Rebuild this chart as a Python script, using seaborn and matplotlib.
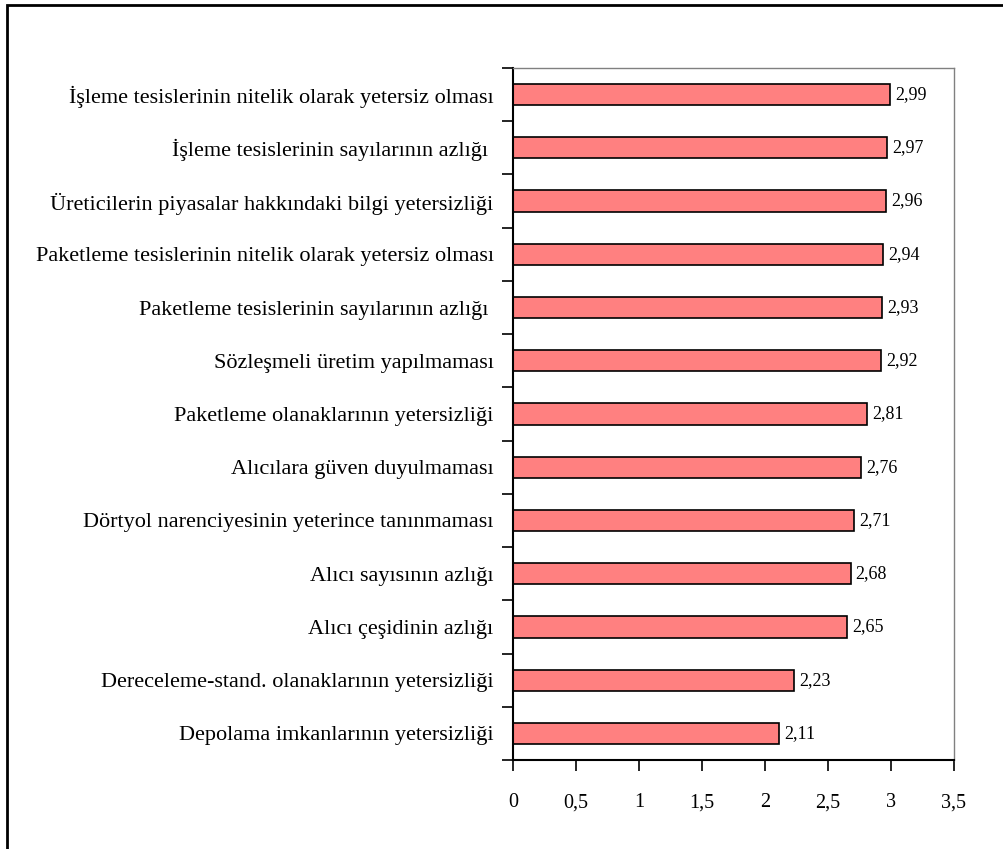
import matplotlib
matplotlib.use("Agg")
import matplotlib.pyplot as plt
import seaborn as sns
import pandas as pd
from matplotlib.patches import Rectangle

categories = [
    "İşleme tesislerinin nitelik olarak yetersiz olması",
    "İşleme tesislerinin sayılarının azlığı ",
    "Üreticilerin piyasalar hakkındaki bilgi yetersizliği",
    "Paketleme tesislerinin nitelik olarak yetersiz olması",
    "Paketleme tesislerinin sayılarının azlığı ",
    "Sözleşmeli üretim yapılmaması",
    "Paketleme olanaklarının yetersizliği",
    "Alıcılara güven duyulmaması",
    "Dörtyol narenciyesinin yeterince tanınmaması",
    "Alıcı sayısının azlığı",
    "Alıcı çeşidinin azlığı",
    "Dereceleme-stand. olanaklarının yetersizliği",
    "Depolama imkanlarının yetersizliği",
]
values = [2.99, 2.97, 2.96, 2.94, 2.93, 2.92, 2.81, 2.76, 2.71, 2.68, 2.65, 2.23, 2.11]
xticks = [0, 0.5, 1, 1.5, 2, 2.5, 3, 3.5]

sns.set_theme(style="white")
plt.rcParams["font.family"] = ["Liberation Serif", "DejaVu Serif"]
plt.rcParams["text.color"] = "black"
plt.rcParams["xtick.color"] = "black"
plt.rcParams["ytick.color"] = "black"
plt.rcParams["axes.labelcolor"] = "black"

df = pd.DataFrame({"cat": categories, "val": values})

fig = plt.figure(figsize=(10.04, 8.49), dpi=100)
ax = fig.add_axes([513/1004, 1 - 760/849, (954 - 513)/1004, (760 - 68)/849])

sns.barplot(data=df, x="val", y="cat", orient="h", color="#FF8080",
            saturation=1, width=0.4, edgecolor="black", linewidth=1.2, ax=ax)

ax.set_xlim(0, 3.5)
ax.set_ylim(len(categories) - 0.5, -0.5)
ax.set_xlabel("")
ax.set_ylabel("")

ax.set_xticks(xticks)
ax.set_xticklabels([f"{t:g}".replace(".", ",") for t in xticks], fontsize=14.5)
ax.tick_params(axis="x", direction="out", length=8, width=1.2, color="black",
               labelcolor="black", pad=16, bottom=True)

ax.set_yticks(range(len(categories)))
ax.set_yticklabels(categories, fontsize=16)
ax.tick_params(axis="y", which="major", length=0, pad=14, labelcolor="black")
ax.set_yticks([i - 0.5 for i in range(len(categories) + 1)], minor=True)
ax.tick_params(axis="y", which="minor", direction="out", length=8, width=1.2, color="black", left=True)

for side in ["left", "bottom"]:
    ax.spines[side].set_color("black")
    ax.spines[side].set_linewidth(1.5)
for side in ["top", "right"]:
    ax.spines[side].set_color("#808080")
    ax.spines[side].set_linewidth(1.0)

for i, v in enumerate(values):
    ax.text(v + 0.04, i, f"{v:.2f}".replace(".", ","), va="center", ha="left",
            fontsize=13, color="black")

fig.patches.append(Rectangle((7/1004, -0.1), 1.2, (849 - 5)/849 + 0.1, transform=fig.transFigure,
                             fill=False, edgecolor="black", linewidth=2))

fig.savefig("out.png", dpi=100)
